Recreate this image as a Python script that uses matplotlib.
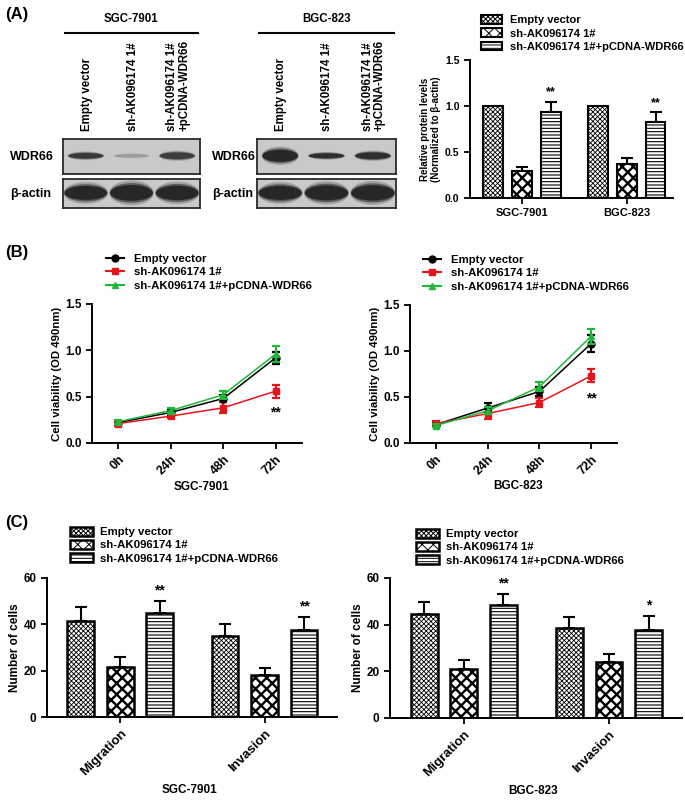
import numpy as np
import matplotlib
matplotlib.use("Agg")
import matplotlib.pyplot as plt
from matplotlib.patches import Ellipse
from matplotlib.lines import Line2D

plt.rcParams['font.family'] = ['Liberation Sans', 'DejaVu Sans']
plt.rcParams['font.weight'] = 'bold'
plt.rcParams['axes.labelweight'] = 'bold'
plt.rcParams['hatch.linewidth'] = 0.7
plt.rcParams['axes.linewidth'] = 1.4

W, H = 685, 807

# ---- data ----
groups = ["Empty vector", "sh-AK096174 1#", "sh-AK096174 1#+pCDNA-WDR66"]
cells = ["SGC-7901", "BGC-823"]

# western blot: lane labels, band intensity and band thickness
wb_lanes = ["Empty vector", "sh-AK096174 1#", "sh-AK096174 1#\n+pCDNA-WDR66"]
wb_wdr66_int = {"SGC-7901": [0.75, 0.18, 0.7], "BGC-823": [0.95, 0.85, 0.85]}
wb_wdr66_thk = {"SGC-7901": [0.2, 0.12, 0.24], "BGC-823": [0.42, 0.18, 0.24]}
wb_actin_int = {"SGC-7901": [0.95, 0.95, 0.95], "BGC-823": [0.95, 0.95, 0.95]}
wb_actin_thk = {"SGC-7901": [0.6, 0.68, 0.62], "BGC-823": [0.6, 0.64, 0.66]}

# relative protein levels
prot_mean = {"SGC-7901": [1.0, 0.29, 0.93], "BGC-823": [1.0, 0.37, 0.83]}
prot_err = {"SGC-7901": [0.0, 0.05, 0.11], "BGC-823": [0.0, 0.06, 0.10]}

# cell viability
hours = ["0h", "24h", "48h", "72h"]
via_mean = {
    "SGC-7901": [[0.22, 0.33, 0.48, 0.92],
                 [0.21, 0.29, 0.38, 0.56],
                 [0.23, 0.35, 0.52, 0.96]],
    "BGC-823": [[0.20, 0.38, 0.56, 1.08],
                [0.21, 0.32, 0.44, 0.73],
                [0.19, 0.35, 0.61, 1.16]],
}
via_err = {
    "SGC-7901": [[0.02, 0.03, 0.04, 0.065],
                 [0.03, 0.02, 0.06, 0.07],
                 [0.02, 0.03, 0.04, 0.09]],
    "BGC-823": [[0.03, 0.05, 0.05, 0.09],
                [0.03, 0.06, 0.05, 0.07],
                [0.02, 0.04, 0.05, 0.08]],
}
via_star = {"SGC-7901": ("**", 0.33), "BGC-823": ("**", 0.48)}

# migration / invasion
assays = ["Migration", "Invasion"]
mig_mean = {"SGC-7901": [[41.5, 21.7, 45.1], [35.0, 18.0, 37.5]],
            "BGC-823": [[44.7, 21.0, 48.3], [38.7, 24.0, 37.9]]}
mig_err = {"SGC-7901": [[6.0, 4.3, 5.0], [5.0, 3.2, 5.7]],
           "BGC-823": [[5.0, 4.0, 5.0], [4.5, 3.5, 5.8]]}
mig_star = {"SGC-7901": ["**", "**"], "BGC-823": ["**", "*"]}
prot_star = ["**", "**"]

line_colors = ["black", "#e8141c", "#1fb83a"]
line_markers = ["o", "s", "^"]
bar_hatches = ["xxxxxxx", "xxx", "-----"]
bar_hatch_colors = ["black", "black", "black"]
bar_hatch_lw = [0.6, 1.7, 0.8]


def rect(x0, y0, x1, y1):
    return [x0 / W, 1 - y1 / H, (x1 - x0) / W, (y1 - y0) / H]


def fx(x):
    return x / W


def fy(y):
    return 1 - y / H


def style_axes(ax, fs=8.5):
    for s in ["top", "right"]:
        ax.spines[s].set_visible(False)
    ax.tick_params(direction="out", length=4, width=1.3, labelsize=fs)


def hatched_bars(ax, x, h, err, lw=1.6):
    handles = []
    for i in range(len(x)):
        with plt.rc_context({"hatch.linewidth": bar_hatch_lw[i % 3]}):
            hb = ax.bar(x[i], h[i], width=0.68, color="white", edgecolor=bar_hatch_colors[i % 3],
                        hatch=bar_hatches[i % 3], linewidth=0, zorder=2)
        ob = ax.bar(x[i], h[i], width=0.68, fill=False, edgecolor="black", linewidth=lw, zorder=3)
        if err[i] > 0:
            ax.errorbar(x[i], h[i], yerr=[[0], [err[i]]], fmt="none", ecolor="black",
                        elinewidth=1.5, capsize=4.5, capthick=1.5, zorder=1)
        handles.append((hb.patches[0], ob.patches[0]))
    return handles


fig = plt.figure(figsize=(W / 100, H / 100), dpi=100)

# ---------------- (A) western blots ----------------
fig.text(fx(5), fy(14), "(A)", fontsize=12, va="center", ha="left")

blot_boxes = {"SGC-7901": (63, 200), "BGC-823": (257, 396)}
label_x = {"SGC-7901": 10, "BGC-823": 212}
for cell in cells:
    x0, x1 = blot_boxes[cell]
    fig.text(fx((x0 + x1) / 2), fy(19), cell, fontsize=8.3, ha="center", va="center")
    fig.add_artist(Line2D([fx(x0 + 2), fx(x1 - 2)], [fy(33), fy(33)], color="black", lw=1.5))
    lane_w = (x1 - x0) / 3
    for i, lab in enumerate(wb_lanes):
        fig.text(fx(x0 + lane_w * (i + 0.5) + 1), fy(131), lab, fontsize=8.3, rotation=90,
                 ha="center", va="bottom", multialignment="left", linespacing=1.0)
    for row, (y0, y1, ints, thks, name) in enumerate([
            (139, 174, wb_wdr66_int[cell], wb_wdr66_thk[cell], "WDR66"),
            (179, 208, wb_actin_int[cell], wb_actin_thk[cell], "β-actin")]):
        ax = fig.add_axes(rect(x0, y0, x1, y1))
        ax.set_facecolor("#c9c9c9")
        ax.set_xlim(-0.5, 2.5)
        ax.set_ylim(0, 1)
        ax.set_xticks([])
        ax.set_yticks([])
        for s in ax.spines.values():
            s.set_linewidth(1.3)
            s.set_color("#2a2a2a")
        for i in range(3):
            bw = 0.78 if row == 0 else 0.95
            for sc, a in [(1.25, 0.25), (1.0, 0.55), (0.8, 0.9)]:
                ax.add_patch(Ellipse((i, 0.52), bw * (0.9 + 0.1 * sc), thks[i] * sc,
                                     facecolor="#1e1e1e", edgecolor="none", alpha=ints[i] * a))
        fig.text(fx(label_x[cell]), fy((y0 + y1) / 2), name, fontsize=9, ha="left", va="center")

# ---------------- (A) protein levels bar chart ----------------
ax = fig.add_axes(rect(470, 60, 673, 198))
style_axes(ax, 7.5)
gap = 3.62
handles = None
for g, cell in enumerate(cells):
    xs = [g * gap + k - 1 for k in range(3)]
    hs = hatched_bars(ax, xs, prot_mean[cell], prot_err[cell], lw=1.5)
    handles = handles or hs
    ax.text(xs[2], prot_mean[cell][2] + prot_err[cell][2] + 0.04, prot_star[g], ha="center",
            va="bottom", fontsize=9)
ax.set_xlim(-1.79, 5.22)
ax.set_ylim(0, 1.5)
ax.set_yticks([0, 0.5, 1.0, 1.5])
ax.set_yticklabels(["0.0", "0.5", "1.0", "1.5"])
ax.set_xticks([0, gap])
ax.set_xticklabels(cells, fontsize=8)
ax.set_ylabel("Relative protein levels\n(Normalized to β-actin)", fontsize=7, labelpad=3,
              linespacing=1.1)
fig.legend(handles, groups, loc="upper left", bbox_to_anchor=(fx(481), fy(15)),
           frameon=False, fontsize=8, handlelength=1.9, handleheight=0.8,
           handletextpad=0.7, labelspacing=0.3, borderpad=0, borderaxespad=0)

# ---------------- (B) cell viability ----------------
fig.text(fx(5), fy(253), "(B)", fontsize=12, va="center", ha="left")
b_rects = {"SGC-7901": (92, 304, 302, 443), "BGC-823": (410, 305, 617, 443)}
b_leg = {"SGC-7901": (106, 254), "BGC-823": (423, 255)}
for cell in cells:
    ax = fig.add_axes(rect(*b_rects[cell]))
    style_axes(ax, 8.5)
    xs = np.arange(len(hours))
    hs = []
    for k in range(3):
        ax.errorbar(xs, via_mean[cell][k], yerr=via_err[cell][k], color=line_colors[k],
                    marker=line_markers[k], markersize=5, lw=1.1, elinewidth=1.6, capsize=3,
                    capthick=1.6, zorder=3 + (k == 2))
        hs.append(Line2D([], [], color=line_colors[k], marker=line_markers[k], markersize=5, lw=1.5))
    star, ys = via_star[cell]
    ax.text(3, ys, star, ha="center", va="center", fontsize=10)
    ax.set_xlim(-0.5, 3.5)
    ax.set_ylim(0, 1.5)
    ax.set_yticks([0, 0.5, 1.0, 1.5])
    ax.set_yticklabels(["0.0", "0.5", "1.0", "1.5"])
    ax.set_xticks(xs)
    ax.set_xticklabels(hours, rotation=45, ha="right", rotation_mode="anchor", fontsize=9)
    ax.set_ylabel("Cell viability (OD 490nm)", fontsize=8.2, labelpad=2)
    ax.set_xlabel(cell, fontsize=8.5)
    ax.xaxis.set_label_coords(0.52, -0.27)
    fig.legend(hs, groups, loc="upper left", bbox_to_anchor=(fx(b_leg[cell][0]), fy(b_leg[cell][1])),
               frameon=False, fontsize=8.2, handlelength=1.6, handletextpad=0.9,
               labelspacing=0.3, borderpad=0, borderaxespad=0)

# ---------------- (C) migration / invasion ----------------
fig.text(fx(5), fy(523), "(C)", fontsize=12, va="center", ha="left")
c_rects = {"SGC-7901": (47, 578, 337, 717), "BGC-823": (390, 578, 682, 718)}
c_leg = {"SGC-7901": (70, 527), "BGC-823": (416, 529)}
gap_c = 3.66
for cell in cells:
    ax = fig.add_axes(rect(*c_rects[cell]))
    style_axes(ax, 8.5)
    hs = None
    for g in range(len(assays)):
        xs = [g * gap_c + k - 1 for k in range(3)]
        h = hatched_bars(ax, xs, mig_mean[cell][g], mig_err[cell][g], lw=1.8)
        hs = hs or h
        ax.text(xs[2], mig_mean[cell][g][2] + mig_err[cell][g][2] + 1.5, mig_star[cell][g],
                ha="center", va="bottom", fontsize=10)
    ax.set_xlim(-1.86, 5.5)
    ax.set_ylim(0, 60)
    ax.set_yticks([0, 20, 40, 60])
    ax.set_xticks([0, gap_c])
    ax.set_xticklabels(assays, rotation=45, ha="right", rotation_mode="anchor", fontsize=9.5)
    ax.set_ylabel("Number of cells", fontsize=8.5, labelpad=2)
    ax.set_xlabel(cell, fontsize=8.5)
    ax.xaxis.set_label_coords(0.49, -0.48)
    fig.legend(hs, groups, loc="upper left", bbox_to_anchor=(fx(c_leg[cell][0]), fy(c_leg[cell][1])),
               frameon=False, fontsize=8.2, handlelength=2.0, handleheight=0.8,
               handletextpad=0.6, labelspacing=0.25, borderpad=0, borderaxespad=0)

fig.savefig("out.png", dpi=100)
